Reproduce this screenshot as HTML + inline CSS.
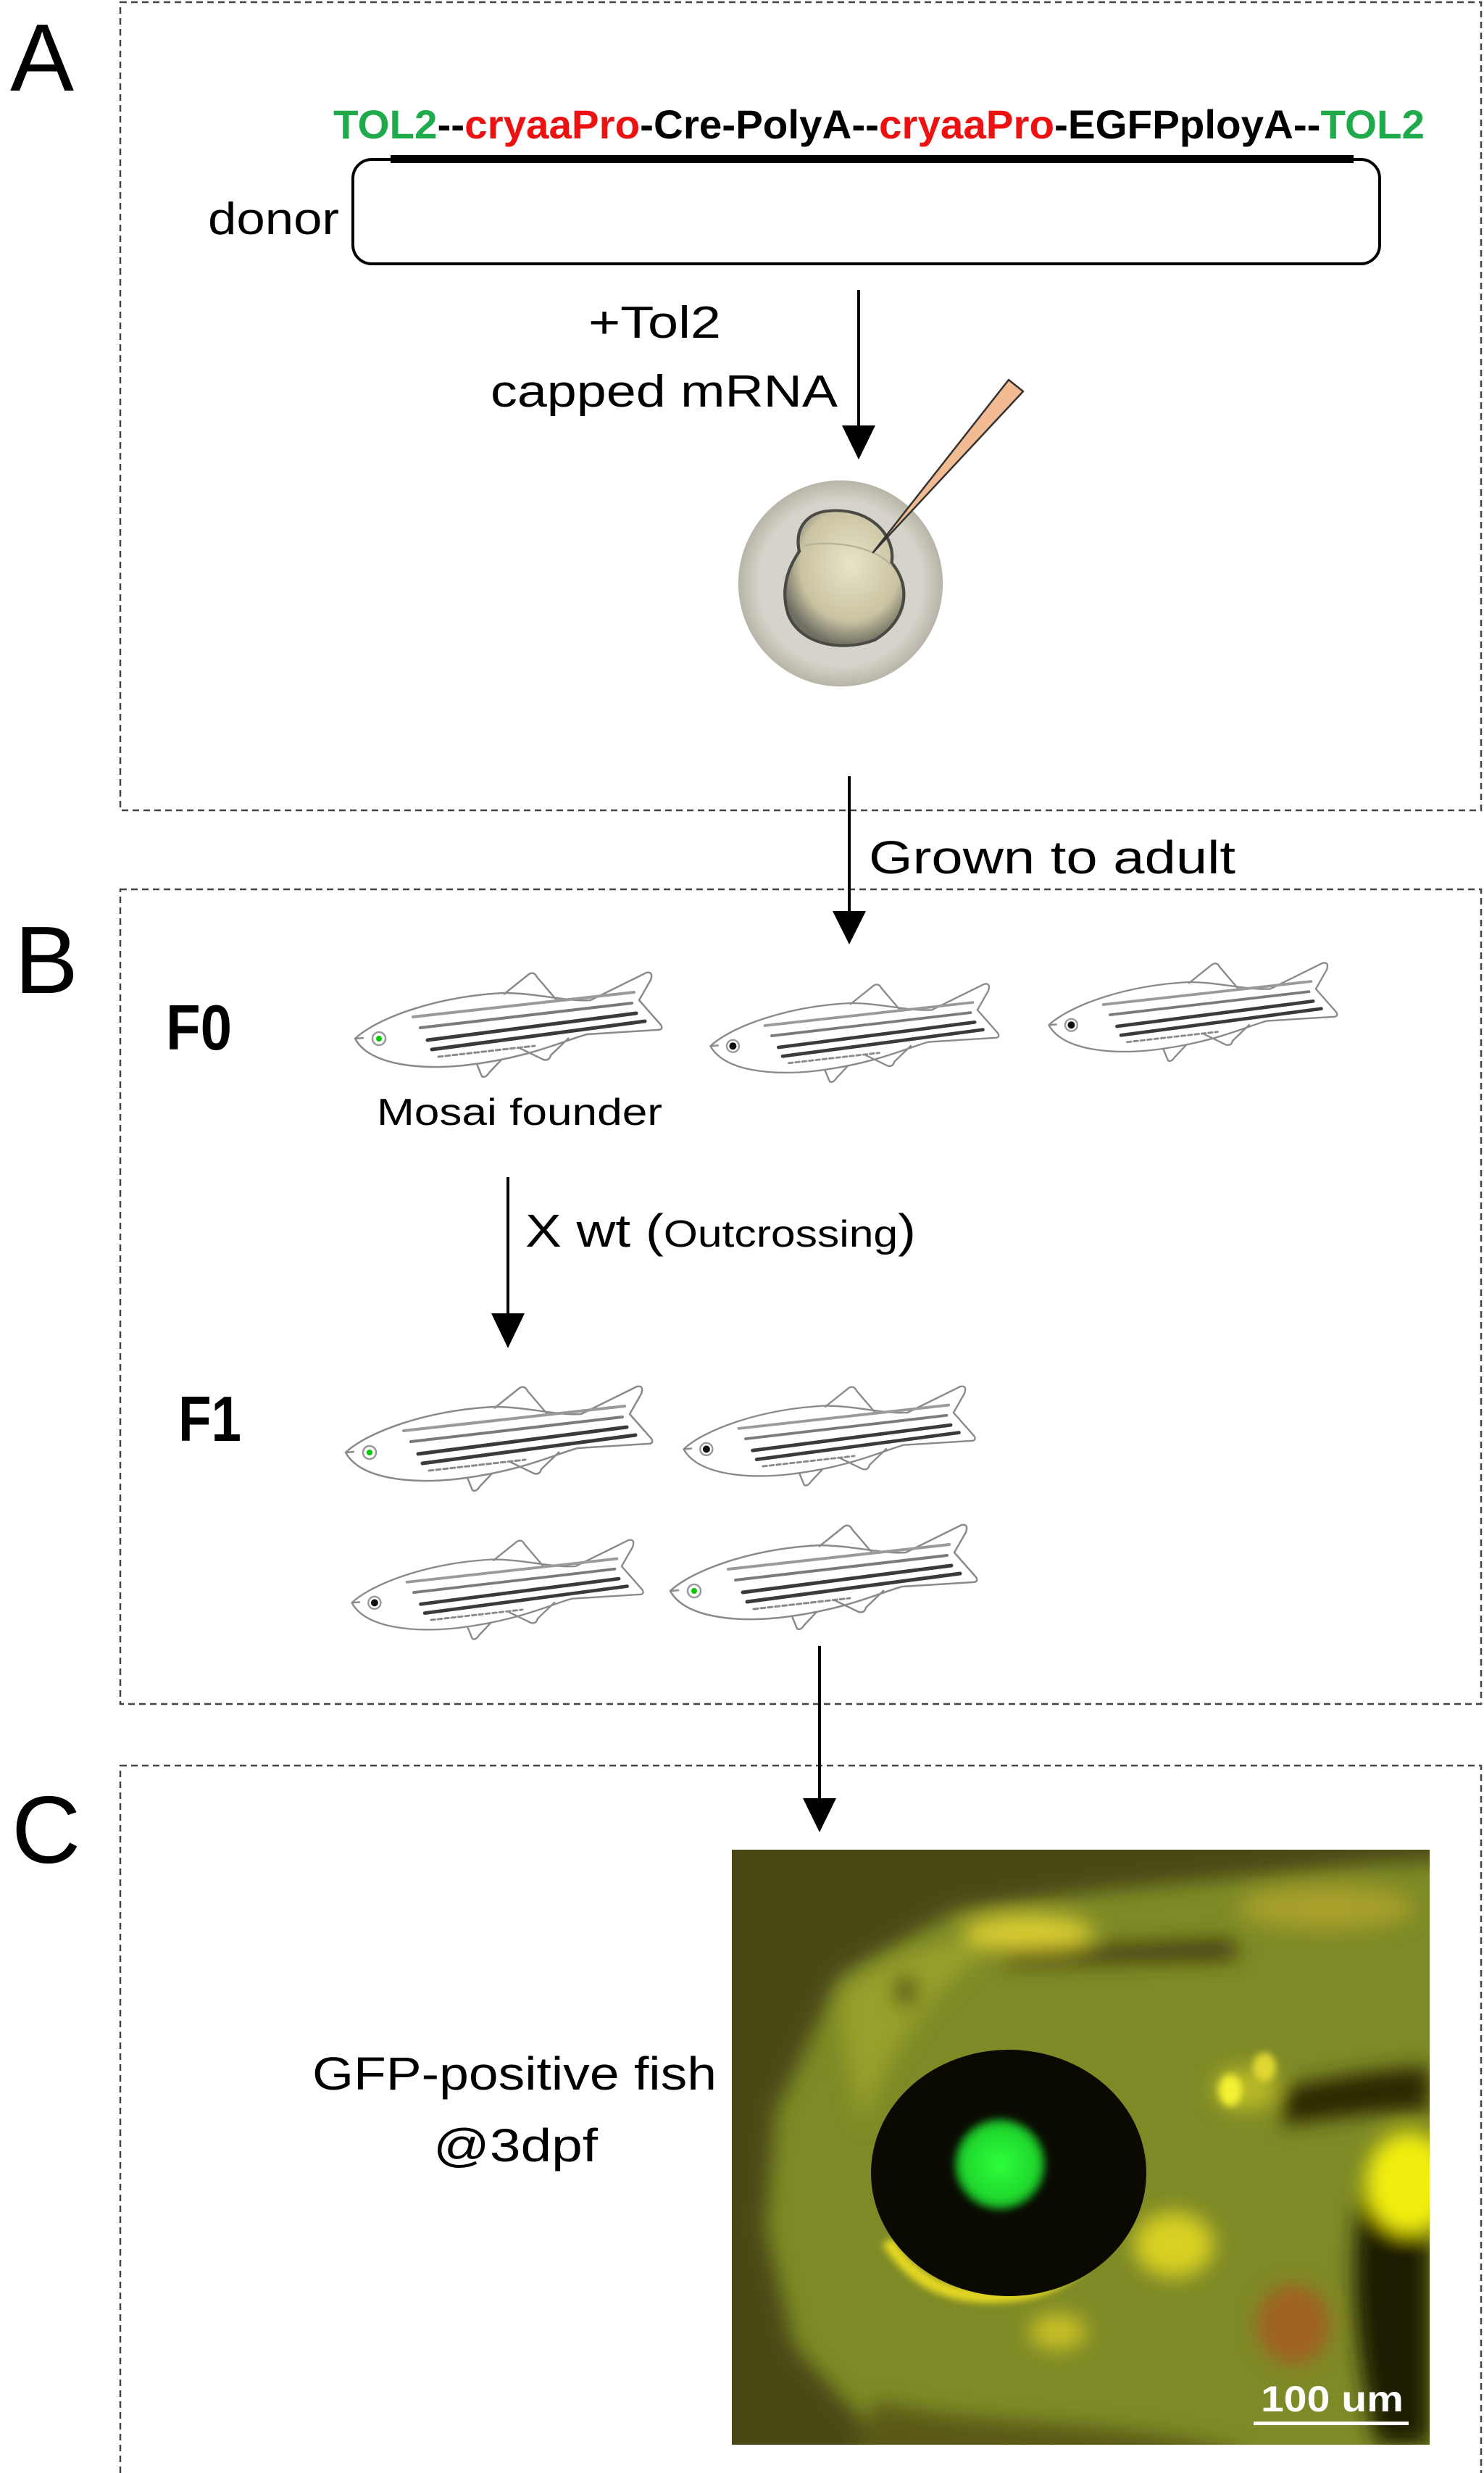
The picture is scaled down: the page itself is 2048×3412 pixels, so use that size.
<!DOCTYPE html>
<html><head><meta charset="utf-8"><style>
html,body{margin:0;padding:0;background:#fff;}
svg{display:block;}
text{font-family:"Liberation Sans",Arial,sans-serif;}
</style></head><body>
<svg width="2048" height="3412" viewBox="0 0 2048 3412" xmlns="http://www.w3.org/2000/svg">
<defs>
<filter id="bl" x="-20%" y="-20%" width="140%" height="140%"><feGaussianBlur stdDeviation="14"/></filter>
<filter id="bs" x="-20%" y="-20%" width="140%" height="140%"><feGaussianBlur stdDeviation="5"/></filter>
<radialGradient id="eggg" cx="50%" cy="50%" r="50%"><stop offset="0.8" stop-color="#d6d3ca"/><stop offset="1" stop-color="#b8b4a8"/></radialGradient>
<radialGradient id="cellg" cx="55%" cy="40%" r="60%"><stop offset="0" stop-color="#e9e4c8"/><stop offset="0.7" stop-color="#c9c3a2"/><stop offset="1" stop-color="#6f6e62"/></radialGradient>
<radialGradient id="gfp" cx="50%" cy="50%" r="50%"><stop offset="0" stop-color="#2dff3a"/><stop offset="0.8" stop-color="#1fd62d"/><stop offset="1" stop-color="#0e5a12"/></radialGradient>
<g id="fish">
 <g fill="none" stroke="#8a8a8a" stroke-width="2.5" stroke-linejoin="round">
  <path d="M10,113 C40,85 120,55 215,50 C260,50 300,62 335,60 L412,22 Q422,20 418,32 L402,60 L432,94 Q436,101 427,101 L330,107 C300,115 250,140 160,150 C100,156 30,150 10,113 Z" fill="#fff"/>
  <path d="M215,52 L250,24 Q257,20 261,28 L290,62"/>
  <path d="M235,125 L270,142 Q278,144 280,136 L305,112"/>
  <path d="M178,148 L185,165 Q190,168 195,160 L212,142"/>
  <path d="M10,113 L22,112"/>
 </g>
 <g stroke-linecap="round">
  <line x1="90" y1="83" x2="395" y2="49" stroke="#9a9a9a" stroke-width="4"/>
  <line x1="100" y1="98" x2="392" y2="64" stroke="#7a7a7a" stroke-width="4"/>
  <line x1="110" y1="115" x2="398" y2="78" stroke="#3a3a3a" stroke-width="5"/>
  <line x1="116" y1="128" x2="410" y2="89" stroke="#3a3a3a" stroke-width="5"/>
  <line x1="125" y1="138" x2="258" y2="123" stroke="#8a8a8a" stroke-width="3" stroke-dasharray="6 4"/>
 </g>
 <circle cx="43" cy="113" r="9" fill="#fff" stroke="#999" stroke-width="2.5"/>
</g>
</defs>

<g fill="none" stroke="#444" stroke-width="2.5" stroke-dasharray="9 6">
 <rect x="166" y="3" width="1878" height="1115"/>
 <rect x="166" y="1227" width="1878" height="1124"/>
 <rect x="166" y="2436" width="1878" height="1100"/>
</g>

<text x="14" y="125" font-size="132">A</text>
<text x="20" y="1370" font-size="132">B</text>
<text x="16" y="2570" font-size="132">C</text>

<text x="460" y="191" font-size="56" font-weight="bold" textLength="1506" lengthAdjust="spacingAndGlyphs"><tspan fill="#1faa4b">TOL2</tspan><tspan fill="#000">--</tspan><tspan fill="#ee1111">cryaaPro</tspan><tspan fill="#000">-Cre-PolyA--</tspan><tspan fill="#ee1111">cryaaPro</tspan><tspan fill="#000">-EGFPployA--</tspan><tspan fill="#1faa4b">TOL2</tspan></text>
<rect x="487" y="220" width="1417" height="144" rx="26" fill="#fff" stroke="#000" stroke-width="4"/>
<rect x="539" y="214" width="1329" height="11" fill="#000"/>
<text x="287" y="323" font-size="62" textLength="181" lengthAdjust="spacingAndGlyphs">donor</text>

<line x1="1185" y1="400" x2="1185" y2="592" stroke="#000" stroke-width="4"/>
<polygon points="1162,587 1208,587 1185,634" fill="#000"/>
<text x="812" y="466" font-size="62" textLength="183" lengthAdjust="spacingAndGlyphs">+Tol2</text>
<text x="677" y="561" font-size="62" textLength="479" lengthAdjust="spacingAndGlyphs">capped mRNA</text>

<g transform="translate(1160,805) scale(0.85,0.79) translate(-1185,-866)">
<ellipse cx="1185" cy="866" rx="166" ry="180" fill="url(#eggg)"/>
<path d="M1160,740 C1230,730 1275,780 1268,830 C1300,870 1295,930 1240,965 C1190,985 1120,975 1100,920 C1085,870 1105,830 1118,810 C1110,770 1130,745 1160,740 Z" fill="url(#cellg)" stroke="#4a4a44" stroke-width="5"/>
<path d="M1125,800 C1170,790 1240,800 1268,835" fill="none" stroke="#b9b39a" stroke-width="3"/>
</g>
<polygon points="1392,524 1412,540 1205,762" fill="#f2bb92" stroke="#333" stroke-width="2.5" stroke-linejoin="round"/>

<line x1="1172" y1="1071" x2="1172" y2="1262" stroke="#000" stroke-width="4"/>
<polygon points="1149,1257 1195,1257 1172,1303" fill="#000"/>
<text x="1199" y="1205" font-size="64" textLength="506" lengthAdjust="spacingAndGlyphs">Grown to adult</text>

<text x="229" y="1448" font-size="88" font-weight="bold" textLength="91" lengthAdjust="spacingAndGlyphs">F0</text>
<use href="#fish" transform="translate(480,1320)"/>
<circle cx="523" cy="1433" r="4" fill="#0c0"/>
<use href="#fish" transform="translate(971,1337) scale(0.94)"/>
<circle cx="1011.4" cy="1443.2" r="5" fill="#111"/>
<use href="#fish" transform="translate(1438,1308) scale(0.94)"/>
<circle cx="1478.4" cy="1414.2" r="5" fill="#111"/>
<text x="520" y="1552" font-size="52" textLength="394" lengthAdjust="spacingAndGlyphs">Mosai founder</text>

<line x1="701" y1="1624" x2="701" y2="1817" stroke="#000" stroke-width="4"/>
<polygon points="678,1812 724,1812 701,1860" fill="#000"/>
<text x="725" y="1720" textLength="539" lengthAdjust="spacingAndGlyphs"><tspan font-size="64">X wt (</tspan><tspan font-size="52">Outcrossing</tspan><tspan font-size="64">)</tspan></text>

<text x="246" y="1988" font-size="88" font-weight="bold" textLength="87" lengthAdjust="spacingAndGlyphs">F1</text>
<use href="#fish" transform="translate(467,1891)"/>
<circle cx="510" cy="2004" r="4" fill="#0c0"/>
<use href="#fish" transform="translate(934,1892) scale(0.95)"/>
<circle cx="974.9" cy="1999.4" r="5" fill="#111"/>
<use href="#fish" transform="translate(476,2104) scale(0.95)"/>
<circle cx="516.9" cy="2211.4" r="5" fill="#111"/>
<use href="#fish" transform="translate(915,2082)"/>
<circle cx="958" cy="2195" r="4" fill="#0c0"/>

<line x1="1131" y1="2271" x2="1131" y2="2486" stroke="#000" stroke-width="4"/>
<polygon points="1108,2481 1154,2481 1131,2528" fill="#000"/>

<text x="431" y="2883" font-size="64" textLength="558" lengthAdjust="spacingAndGlyphs">GFP-positive fish</text>
<text x="598" y="2982" font-size="64" textLength="227" lengthAdjust="spacingAndGlyphs">@3dpf</text>

<svg x="1010" y="2552" width="963" height="821" viewBox="0 0 963 821">
 <rect width="963" height="821" fill="#7e8a26"/>
 <g filter="url(#bl)">
  <path d="M-40,-40 L1000,-40 L1000,15 L883,20 L500,58 L309,84 L149,175 L60,363 L47,524 L86,684 L213,824 L213,870 L-40,870 Z" fill="#4a4812"/>
  <path d="M200,760 C350,800 500,780 700,830 L700,870 L150,870 Z" fill="#5a5a18"/>
  <path d="M150,200 C200,150 300,120 400,110 C300,160 220,260 180,380 C160,300 150,250 150,200 Z" fill="#97a02a"/>
  <ellipse cx="410" cy="115" rx="90" ry="25" fill="#d8cc30"/>
  <ellipse cx="820" cy="80" rx="120" ry="30" fill="#a8a02a"/>
  <path d="M373,140 L690,125 L700,150 L380,158 Z" fill="#3a3408"/>
  <ellipse cx="240" cy="195" rx="14" ry="22" fill="#3c3a10"/>
  <path d="M760,330 C840,310 930,300 963,300 L963,360 C900,360 830,370 760,380 Z" fill="#2c2806"/>
  <path d="M870,480 C900,460 960,470 963,470 L963,821 L890,821 C860,700 850,560 870,480 Z" fill="#1e1a04"/>
  <ellipse cx="935" cy="460" rx="60" ry="70" fill="#f2ee10"/>
  <ellipse cx="610" cy="545" rx="55" ry="45" fill="#d8d020"/>
  <ellipse cx="710" cy="330" rx="45" ry="30" fill="#b8b828"/>
  <ellipse cx="775" cy="655" rx="50" ry="55" fill="#a06020"/>
  <ellipse cx="450" cy="665" rx="40" ry="25" fill="#c8c028"/>
 </g>
 <g filter="url(#bs)">
  <path d="M215,540 C260,610 320,620 380,615 C430,612 480,590 515,530" fill="none" stroke="#e6d820" stroke-width="18"/>
  <ellipse cx="688" cy="332" rx="16" ry="22" fill="#f4f030"/>
  <ellipse cx="735" cy="300" rx="16" ry="20" fill="#e0d830"/>
 </g>
 <ellipse cx="382" cy="446" rx="190" ry="170" fill="#0b0a02"/>
 <ellipse cx="370" cy="434" rx="64" ry="64" fill="url(#gfp)" filter="url(#bs)"/>
 <text x="730" y="775" font-size="50" font-weight="bold" fill="#fff" textLength="197" lengthAdjust="spacingAndGlyphs">100 um</text>
 <rect x="720" y="789" width="214" height="5" fill="#fff"/>
</svg>
</svg>
</body></html>
